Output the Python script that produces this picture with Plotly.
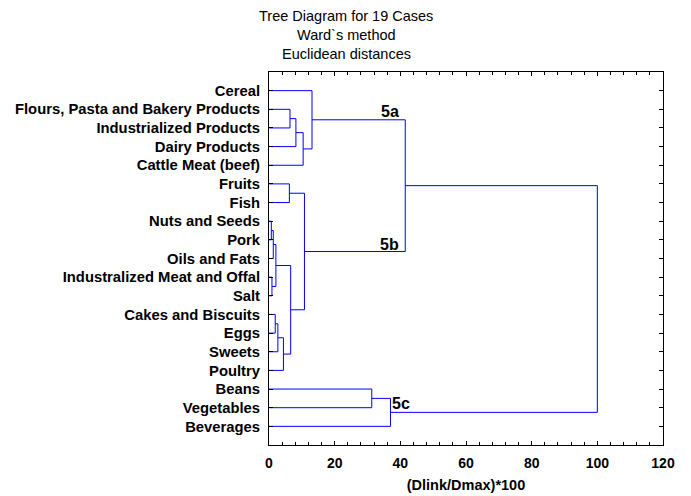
import plotly.graph_objects as go

leaves = [
    "Cereal",
    "Flours, Pasta and Bakery Products",
    "Industrialized Products",
    "Dairy Products",
    "Cattle Meat (beef)",
    "Fruits",
    "Fish",
    "Nuts and Seeds",
    "Pork",
    "Oils and Fats",
    "Industralized Meat and Offal",
    "Salt",
    "Cakes and Biscuits",
    "Eggs",
    "Sweets",
    "Poultry",
    "Beans",
    "Vegetables",
    "Beverages",
]

# merges: new node id = 19 + index
merge_left = [7, 10, 19, 12, 21, 22, 24, 5, 1, 23, 27, 29, 26, 0, 16, 33, 32, 35]
merge_right = [8, 11, 9, 13, 20, 14, 15, 6, 2, 25, 3, 4, 28, 30, 17, 18, 31, 34]
merge_height = [0.7, 0.9, 1.3, 1.9, 2.1, 2.7, 4.4, 6.2, 6.4, 6.6, 8.2, 10.4, 10.8, 13.1, 31.3, 37.0, 41.5, 100.0]

x_ticks = [0, 20, 40, 60, 80, 100, 120]

n = len(leaves)
pos = {i: i + 1 for i in range(n)}
hgt = {i: 0.0 for i in range(n)}
xs, ys = [], []
for k, (a, b, h) in enumerate(zip(merge_left, merge_right, merge_height)):
    xs += [hgt[a], h, h, hgt[b], None]
    ys += [pos[a], pos[a], pos[b], pos[b], None]
    nid = n + k
    pos[nid] = (pos[a] + pos[b]) / 2
    hgt[nid] = h

fig = go.Figure()
fig.add_trace(go.Scatter(x=xs, y=ys, mode="lines",
                         line=dict(color="#0000ff", width=1),
                         hoverinfo="skip", showlegend=False))

font_family = "Liberation Sans, Arial, sans-serif"

fig.update_layout(
    width=691, height=496,
    margin=dict(l=269, r=28, t=72, b=51, autoexpand=False),
    paper_bgcolor="white", plot_bgcolor="white",
    font=dict(family=font_family, color="black"),
    showlegend=False,
)
fig.update_xaxes(
    range=[0, 120], tickvals=x_ticks, ticktext=[str(v) for v in x_ticks],
    showgrid=False, zeroline=False, automargin=False,
    showline=True, linecolor="black", linewidth=1, mirror="allticks",
    ticks="inside", ticklen=4, tickcolor="black",
    minor=dict(dtick=4, ticks="inside", ticklen=3, tickcolor="black", showgrid=False),
    tickfont=dict(size=14, weight="bold"),
    ticklabelstandoff=5,
    title=dict(text="(Dlink/Dmax)*100", font=dict(size=14.5, weight="bold"), standoff=10),
)
fig.update_yaxes(
    range=[20, 0], tickvals=list(range(1, n + 1)), ticktext=leaves,
    showgrid=False, zeroline=False, automargin=False,
    showline=True, linecolor="black", linewidth=1, mirror="allticks",
    ticks="inside", ticklen=4, tickcolor="black",
    tickfont=dict(size=14.8, weight="bold"),
    ticklabelstandoff=5,
)

for txt, y in [("Tree Diagram for 19 Cases", 16), ("Ward`s method", 35), ("Euclidean distances", 54.3)]:
    fig.add_annotation(text=txt, xref="paper", yref="paper",
                       x=(346 - 269) / 394, y=(445 - y) / 373,
                       xanchor="center", yanchor="middle", showarrow=False,
                       font=dict(size=14.5, family=font_family))

for txt, x, y in [("5a", 36.8, 2.1), ("5b", 36.6, 9.24), ("5c", 40.1, 17.8)]:
    fig.add_annotation(text=txt, x=x, y=y, xref="x", yref="y",
                       xanchor="center", yanchor="middle", showarrow=False,
                       font=dict(size=16, weight="bold", family=font_family))

fig.write_html("out.html")
